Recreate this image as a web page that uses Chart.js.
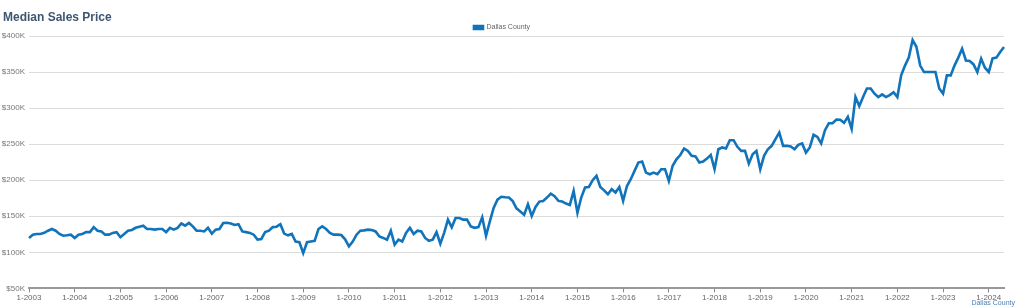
<!DOCTYPE html>
<html>
<head>
<meta charset="utf-8">
<script src="https://cdn.jsdelivr.net/npm/chart.js@4.4.1/dist/chart.umd.min.js"></script>
<style>
  html, body { margin: 0; padding: 0; background: #fff; }
  #wrap { position: relative; width: 1024px; height: 308px; overflow: hidden; }
  #title { position: absolute; left: 3px; top: 10px; font: bold 12px "Liberation Sans", Arial, sans-serif; color: #3e5672; }
  #foot { position: absolute; right: 9px; top: 299px; font: 7px "Liberation Sans", Arial, sans-serif; color: #4f7fb5; }
  canvas { position: absolute; left: 0; top: 0; }
</style>
</head>
<body>
<div id="wrap">
  <canvas id="c" width="1024" height="308"></canvas>
  <div id="title">Median Sales Price</div>
  <div id="foot">Dallas County</div>
</div>
<script>
// Monthly data, Jan 2003 - May 2024
const startYear = 2003;
const seriesName = "Dallas County";
const yTicks = [50000, 100000, 150000, 200000, 250000, 300000, 350000, 400000];
// values in thousands of dollars
const valuesK = [
  // 2003
  120,124.5,125.5,125.5,127,130,132.4,130,125.5,123,123.6,124.5,
  // 2004
  120,124.5,125.5,128,128,135,130,129,124.5,124.5,127,128,
  // 2005
  121,125.5,130,131,134,135.6,137,132.4,132.4,131.5,132.4,132.4,
  // 2006
  128,134,131.5,134,140,137,140.7,136,130,130,129,134,
  // 2007
  126,131.5,132.4,140.7,141,140,138,139,129,128,127,124.5,
  // 2008
  117.6,118.5,128,130,135,135.6,139,126,123.6,125.5,115,114,
  // 2009
  99,114,115,116,132.4,136,132.4,127,124.5,124.5,124,118,
  // 2010
  108.3,115,124.5,130,130.5,131.5,131,129,122,120,117.6,130,
  // 2011
  110.6,117.6,115,127,134,125.5,130,129,120,116,117.6,128,
  // 2012
  112,127,145.4,134.7,147.7,147.7,145.4,145.4,136,134,135,148.6,
  // 2013
  123,143,161.5,173,177,176.4,176,171,161,156.5,152,166.7,
  // 2014
  150.5,163,170.4,171.3,176,181.5,178,171.3,170.4,167.6,165.7,185,
  // 2015
  155,176,190,190.7,200,206,190.7,186,180.6,187.5,183,190.7,
  // 2016
  171.3,192,201.4,213,224.5,226,210.6,208.3,210.6,208.3,215.3,215.3,
  // 2017
  199,220,229,235,244,240.7,233.8,233,224.5,226,230,235,
  // 2018
  215.3,243,245.4,244,255.5,255.5,246.3,240.7,240.7,223,236,240.7,
  // 2019
  215.3,233.8,243,247.7,257,266,247.7,247.7,246.8,243,249,251,
  // 2020
  238.4,245.4,263,260,251,269.4,279,279,284,283.8,279.6,288,
  // 2021
  271.3,315.3,302.8,315.3,327.3,327.3,320,315.3,319,315.3,318,322,
  // 2022
  315.3,345.4,359,370,394.4,385,359,350,350,350,350,327.3,
  // 2023
  320,345.4,345.4,359,370,382.4,366,365.3,360.6,350,368.5,356,
  // 2024
  350,369,370,377.8,384.7
];
const values = valuesK.map(v => Math.round(v * 1000));
const labels = values.map((_, i) => (i % 12 + 1) + "-" + (startYear + Math.floor(i / 12)));

const fontFam = "'Liberation Sans', Arial, sans-serif";

const legendHeightPlugin = {
  id: 'legendHeight',
  beforeInit(chart) {
    const lg = chart.legend;
    if (!lg) return;
    const orig = lg.fit.bind(lg);
    lg.fit = function() { orig(); this.height = 20; };
  }
};

new Chart(document.getElementById('c'), {
  type: 'line',
  data: {
    labels: labels,
    datasets: [{
      label: seriesName,
      data: values,
      borderColor: '#1174bb',
      backgroundColor: '#1174bb',
      borderWidth: 2.6,
      pointRadius: 0,
      pointHoverRadius: 0,
      tension: 0,
      fill: false
    }]
  },
  plugins: [legendHeightPlugin],
  options: {
    responsive: false,
    animation: false,
    events: [],
    layout: { padding: { left: 0, right: 20, top: 16, bottom: 4 } },
    plugins: {
      title: { display: false },
      tooltip: { enabled: false },
      legend: {
        display: true,
        position: 'top',
        labels: {
          font: { family: fontFam, size: 7 },
          color: '#666',
          boxWidth: 9,
          boxHeight: 3,
          padding: 8,
          useBorderRadius: false
        }
      }
    },
    scales: {
      x: {
        type: 'category',
        offset: false,
        grid: { display: true, drawOnChartArea: false, drawTicks: true, tickLength: 4, color: '#888', lineWidth: 1 },
        border: { display: true, color: '#999', width: 2 },
        ticks: {
          autoSkip: false,
          maxRotation: 0,
          minRotation: 0,
          padding: 1,
          font: { family: fontFam, size: 8 },
          color: '#666',
          callback: function(val, idx) {
            const l = labels[idx];
            return l.startsWith('1-') ? l : null;
          }
        }
      },
      y: {
        min: yTicks[0],
        max: yTicks[yTicks.length - 1],
        afterBuildTicks: (axis) => { axis.ticks = yTicks.map(v => ({ value: v })); },
        afterFit: (axis) => { axis.width = 29; },
        grid: { color: '#dcdcdc', lineWidth: 1, drawTicks: false },
        border: { display: false },
        ticks: {
          padding: 4,
          font: { family: fontFam, size: 8 },
          color: '#777',
          callback: (v) => '$' + (v / 1000) + 'K'
        }
      }
    }
  }
});
</script>
</body>
</html>
